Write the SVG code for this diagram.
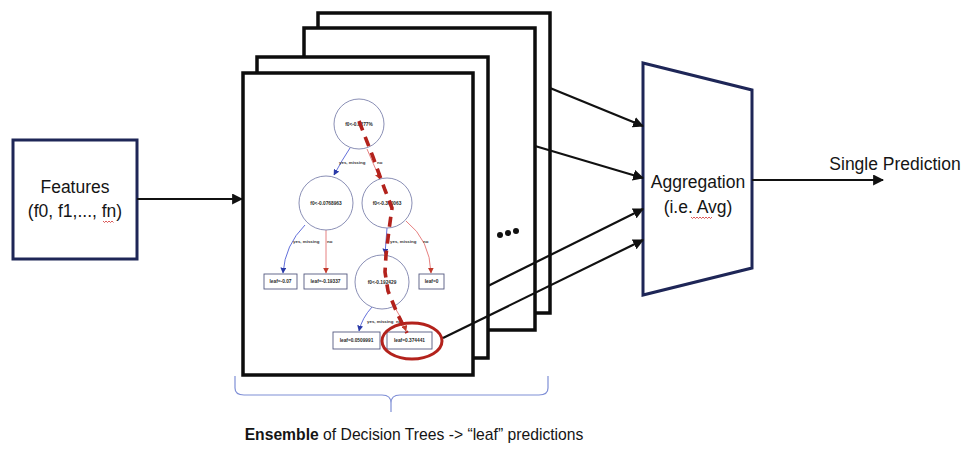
<svg xmlns="http://www.w3.org/2000/svg" width="966" height="449" viewBox="0 0 966 449">
  <defs>
    <marker id="arr" viewBox="0 0 10 10" refX="9" refY="5" markerWidth="5" markerHeight="5" orient="auto" markerUnits="strokeWidth">
      <path d="M0,0 L10,5 L0,10 z" fill="#111"/>
    </marker>
    <marker id="arrB" viewBox="0 0 10 10" refX="9" refY="5" markerWidth="6" markerHeight="6" orient="auto" markerUnits="userSpaceOnUse">
      <path d="M0,0 L10,5 L0,10 z" fill="#2a3aa8"/>
    </marker>
    <marker id="arrR" viewBox="0 0 10 10" refX="9" refY="5" markerWidth="6" markerHeight="6" orient="auto" markerUnits="userSpaceOnUse">
      <path d="M0,0 L10,5 L0,10 z" fill="#c0392b"/>
    </marker>
    <style>
      .frame { fill: #fff; stroke: #0d0d0d; stroke-width: 3.5; }
      .box { fill: #fff; stroke: #1e2657; stroke-width: 3; }
      .lbl { font-family: "Liberation Sans", Arial, sans-serif; font-size: 17.5px; fill: #151515; text-anchor: middle; }
      .cap { font-size: 15.7px; }
      .conn { fill: none; stroke: #111; stroke-width: 2.2; }
      .tnode { fill: #fff; stroke: #7d82ad; stroke-width: 0.9; }
      .tleaf { fill: #fff; stroke: #555a80; stroke-width: 0.9; }
      .ttxt { font-family: "Liberation Sans", Arial, sans-serif; font-size: 4.8px; font-weight: bold; fill: #2a2a2a; text-anchor: middle; }
      .tedge { font-family: "Liberation Sans", Arial, sans-serif; font-size: 4.4px; font-weight: bold; fill: #333; }
      .eb { fill: none; stroke: #3b4bd0; stroke-width: 0.8; }
      .er { fill: none; stroke: #e06060; stroke-width: 0.8; }
      .squig { fill: none; stroke: #d03030; stroke-width: 0.8; }
    </style>
  </defs>

  <!-- input node -->
  <g id="features">
    <rect class="box" x="13" y="140" width="124" height="119"/>
    <text class="lbl" x="75" y="193">Features</text>
    <text class="lbl" x="75" y="217">(f0, f1,..., fn)</text>
    <path class="squig" d="M103,221 l1.5,1.5 l1.5,-1.5 l1.5,1.5 l1.5,-1.5 l1.5,1.5 l1.5,-1.5 l1.5,1.5"/>
  </g>

  <!-- stack of decision tree frames -->
  <g id="tree-stack">
    <rect class="frame" x="318" y="13" width="232" height="300"/>
    <rect class="frame" x="304" y="28" width="231" height="302"/>
    <rect class="frame" x="257" y="57" width="231" height="301"/>
    <rect class="frame" x="243" y="73" width="230" height="302"/>
    <g id="more-trees" fill="#111">
      <circle cx="500" cy="235" r="3"/>
      <circle cx="508" cy="233" r="3"/>
      <circle cx="516" cy="231" r="3"/>
    </g>
  </g>

  <!-- decision tree drawn in the front frame -->
  <g id="tree">
    <g id="tree-edges">
      <path class="eb" d="M350,148 Q342,160 334,175" marker-end="url(#arrB)"/>
      <path class="er" d="M367,149 Q373,163 380,179" marker-end="url(#arrR)"/>
      <path class="eb" d="M305,225 Q285,245 283,273" marker-end="url(#arrB)"/>
      <path class="er" d="M326,230 L326,273" marker-end="url(#arrR)"/>
      <path class="eb" d="M387,228 L385,254" marker-end="url(#arrB)"/>
      <path class="er" d="M406,221 Q430,240 431,273" marker-end="url(#arrR)"/>
      <path class="eb" d="M372,307 Q362,318 359,331" marker-end="url(#arrB)"/>
      <path class="er" d="M394,306 Q402,318 406,331" marker-end="url(#arrR)"/>
      <text class="tedge" x="339" y="164">yes, missing</text>
      <text class="tedge" x="377" y="164">no</text>
      <text class="tedge" x="293" y="243">yes, missing</text>
      <text class="tedge" x="327" y="243">no</text>
      <text class="tedge" x="390" y="243">yes, missing</text>
      <text class="tedge" x="423" y="243">no</text>
      <text class="tedge" x="367" y="323">yes, missing</text>
      <text class="tedge" x="396" y="323">no</text>
    </g>
    <g id="node-root">
      <circle class="tnode" cx="359" cy="124" r="25"/>
      <text class="ttxt" x="359" y="126">f0&lt;-0.0277%</text>
    </g>
    <g id="node-l">
      <circle class="tnode" cx="326" cy="203" r="27"/>
      <text class="ttxt" x="326" y="205">f0&lt;-0.0768963</text>
    </g>
    <g id="node-r">
      <circle class="tnode" cx="387" cy="203" r="25"/>
      <text class="ttxt" x="387" y="205">f0&lt;-0.360063</text>
    </g>
    <g id="node-rl">
      <circle class="tnode" cx="382" cy="282" r="27"/>
      <text class="ttxt" x="382" y="284">f0&lt;-0.192429</text>
    </g>
    <g id="leaf-1">
      <rect class="tleaf" x="264" y="274" width="33" height="15"/>
      <text class="ttxt" x="280.5" y="283">leaf=-0.07</text>
    </g>
    <g id="leaf-2">
      <rect class="tleaf" x="304" y="274" width="43" height="15"/>
      <text class="ttxt" x="325.5" y="283">leaf=-0.19337</text>
    </g>
    <g id="leaf-3">
      <rect class="tleaf" x="419" y="274" width="25" height="15"/>
      <text class="ttxt" x="431.5" y="283">leaf=0</text>
    </g>
    <g id="leaf-4">
      <rect class="tleaf" x="333" y="332" width="47" height="17"/>
      <text class="ttxt" x="356.5" y="342">leaf=0.0509991</text>
    </g>
    <g id="leaf-5">
      <rect class="tleaf" x="387" y="332" width="45" height="17"/>
      <text class="ttxt" x="409.5" y="342">leaf=0.374441</text>
    </g>
    <!-- decision path and highlighted leaf -->
    <path d="M359,121 L373,157 L385,190 L392,208 L389,230 L386,255 L385,272 L388,291 L397,313 L407,333" fill="none" stroke="#b3221c" stroke-width="3.6" stroke-dasharray="10,7"/>
    <ellipse cx="412" cy="341" rx="30" ry="18" fill="none" stroke="#b3221c" stroke-width="3"/>
  </g>

  <!-- aggregation node -->
  <g id="aggregation">
    <path class="box" d="M643,63 L752,90 L752,268 L643,295 Z"/>
    <text class="lbl" x="698" y="188">Aggregation</text>
    <text class="lbl" x="698" y="213">(i.e. Avg)</text>
    <path class="squig" d="M691,217 l1.5,1.5 l1.5,-1.5 l1.5,1.5 l1.5,-1.5 l1.5,1.5 l1.5,-1.5 l1.5,1.5 l1.5,-1.5 l1.5,1.5 l1.5,-1.5 l1.5,1.5 l1.5,-1.5 l1.5,1.5 l1.5,-1.5"/>
  </g>

  <!-- output label -->
  <g id="output">
    <text class="lbl" x="895" y="170">Single Prediction</text>
  </g>

  <!-- connectors -->
  <g id="connectors">
    <line class="conn" x1="137" y1="199" x2="242" y2="199" marker-end="url(#arr)"/>
    <line class="conn" x1="550" y1="88" x2="643" y2="126" marker-end="url(#arr)"/>
    <line class="conn" x1="535" y1="146" x2="643" y2="178" marker-end="url(#arr)"/>
    <line class="conn" x1="488" y1="286" x2="643" y2="209" marker-end="url(#arr)"/>
    <line class="conn" x1="443" y1="338" x2="643" y2="240" marker-end="url(#arr)"/>
    <line class="conn" x1="752" y1="180" x2="883" y2="180" marker-end="url(#arr)"/>
  </g>

  <!-- ensemble brace and caption -->
  <g id="ensemble">
    <path d="M235,376 L235,388 Q235,395 244,395 L382,395 Q391,395 391,403 L391,412 M391,403 Q391,395 400,395 L539,395 Q548,395 548,388 L548,376" fill="none" stroke="#7f8fd6" stroke-width="1.2"/>
    <text class="lbl cap" x="414" y="440"><tspan font-weight="bold">Ensemble</tspan> of Decision Trees -&gt; “leaf” predictions</text>
  </g>
</svg>
